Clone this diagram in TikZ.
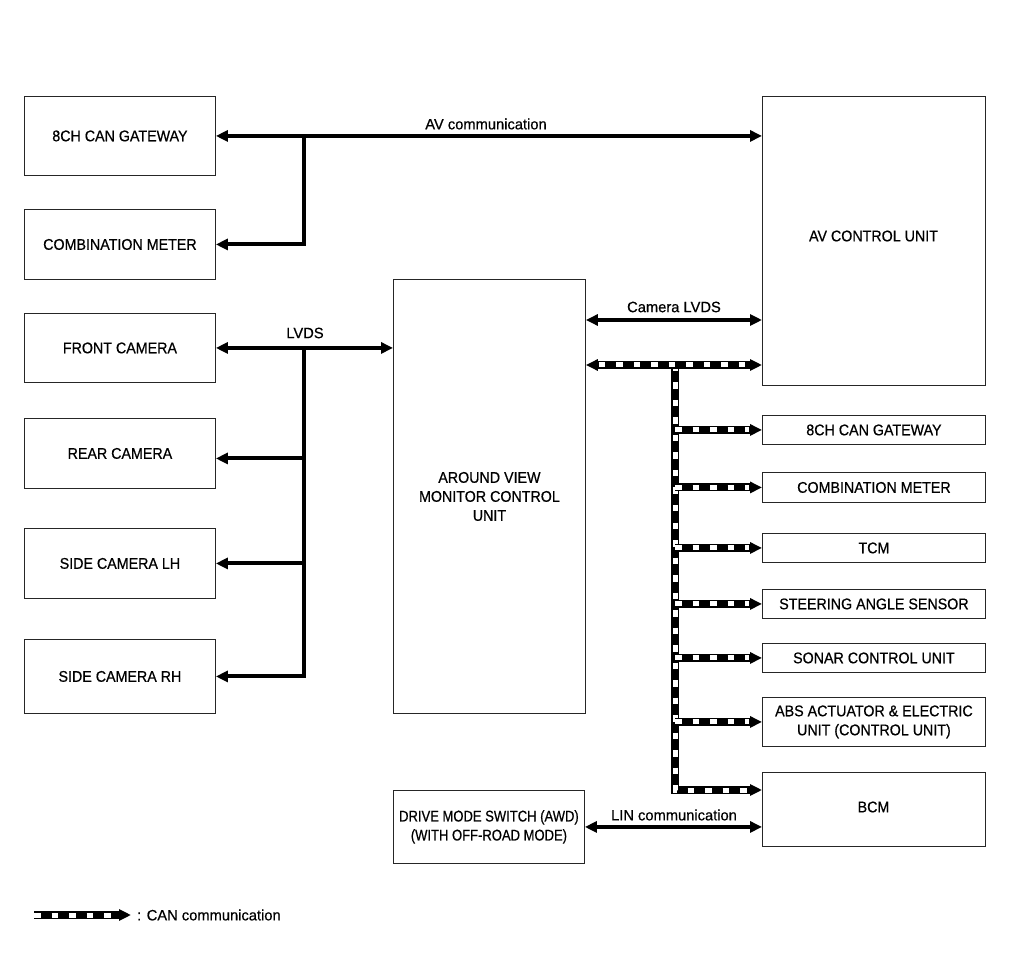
\documentclass[tikz,border=0pt]{standalone}
\usepackage{fontspec}
\setmainfont{Liberation Sans}
\newfontfamily\boxfont[FakeStretch=0.92,FakeBold=0.6]{Liberation Sans}
\newfontfamily\condfont[FakeStretch=0.84,FakeBold=0.6]{Liberation Sans}
\newfontfamily\lblfont[FakeStretch=0.98,FakeBold=0.6]{Liberation Sans}
\usetikzlibrary{arrows.meta,calc}
\tikzset{
  box/.style={draw=black!85,line width=0.9pt,anchor=north west,inner sep=0pt,align=center,font=\boxfont\fontsize{15.5}{19}\selectfont},
  txt/.style={inner sep=0pt,align=center,font=\boxfont\fontsize{15.5}{19}\selectfont},
  lbl/.style={inner sep=0pt,font=\lblfont\fontsize{15}{17}\selectfont},
  tip/.tip={Triangle[length=12pt,width=11pt]},
  sig/.style={line width=4pt,-tip},
  bisig/.style={line width=4pt,tip-tip},
  canblack/.style={line width=8pt,black},
  canwhite/.style={line width=5pt,white,dash pattern=on 6.5pt off 11pt},
}
\newcommand{\canline}[1]{\draw[canblack,-tip] #1; \draw[canwhite,shorten >=13pt] #1;}
\newcommand{\canbiline}[1]{\draw[canblack,tip-tip] #1; \draw[canwhite,shorten >=13pt,shorten <=13pt] #1;}
\begin{document}
\begin{tikzpicture}[x=1pt,y=-1pt]
\useasboundingbox (0,0) rectangle (1010,957);
% left boxes
\node[box,minimum width=191pt,minimum height=79pt] (gwL) at (24,96) {8CH CAN GATEWAY};
\node[box,minimum width=191pt,minimum height=70pt] (cmL) at (24,209) {COMBINATION METER};
\node[box,minimum width=191pt,minimum height=69pt] (front) at (24,313) {FRONT CAMERA};
\node[box,minimum width=191pt,minimum height=70pt] (rear) at (24,418) {REAR CAMERA};
\node[box,minimum width=191pt,minimum height=70pt] (lh) at (24,528) {SIDE CAMERA LH};
\node[box,minimum width=191pt,minimum height=74pt] (rh) at (24,639) {SIDE CAMERA RH};
% center
\node[box,minimum width=192pt,minimum height=434pt] (avm) at (393,279) {AROUND VIEW\\MONITOR CONTROL\\UNIT};
\node[box,minimum width=191pt,minimum height=73pt,font=\condfont\fontsize{15.5}{19}\selectfont] (drv) at (393,790) {DRIVE MODE SWITCH (AWD)\\(WITH OFF-ROAD MODE)};
% right
\node[box,minimum width=223pt,minimum height=289pt] (avcu) at (762,96) {};
\node[txt] (avcut) at (873.5,236) {AV CONTROL UNIT};
\node[box,minimum width=223pt,minimum height=29pt] (gwR) at (762,415) {8CH CAN GATEWAY};
\node[box,minimum width=223pt,minimum height=30pt] (cmR) at (762,472) {COMBINATION METER};
\node[box,minimum width=223pt,minimum height=29pt] (tcm) at (762,533) {TCM};
\node[box,minimum width=223pt,minimum height=29pt] (sas) at (762,589) {STEERING ANGLE SENSOR};
\node[box,minimum width=223pt,minimum height=29pt] (sonar) at (762,643) {SONAR CONTROL UNIT};
\node[box,minimum width=223pt,minimum height=49pt] (abs) at (762,697) {ABS ACTUATOR \& ELECTRIC\\UNIT (CONTROL UNIT)};
\node[box,minimum width=223pt,minimum height=74pt] (bcm) at (762,772) {};
\node[txt] (bcmt) at (873.5,807) {BCM};

% AV communication
\draw[bisig] (gwL.east) -- (avcu.west |- gwL.east);
\node[lbl] (avcom) at (486,124) {AV communication};
\coordinate (jav) at (304,136);
\draw[sig] (jav) |- (cmL.east);

% LVDS
\draw[bisig] (front.east) -- (avm.west |- front.east);
\node[lbl] (lvds) at (305,333) {LVDS};
\coordinate (jl) at (304,348);
\draw[sig] (jl) |- ([yshift=-5pt]rear.east);
\draw[sig] (jl) |- (lh.east);
\draw[line width=4pt] (jl) -- (304,677);
\draw[sig] (jl) |- (rh.east);

% Camera LVDS
\coordinate (ycl) at (0,320);
\draw[bisig] (avm.east |- ycl) -- (avcu.west |- ycl);
\node[lbl] (camlvds) at (674,307) {Camera LVDS};

% CAN
\coordinate (ycan) at (0,365);
\coordinate (jc) at (675,365);
\coordinate (ybcm) at (0,790);
\canline{(jc) |- (bcm.west |- ybcm)}
\canline{(jc |- gwR.west) -- (gwR.west)}
\canline{(jc |- cmR.west) -- (cmR.west)}
\canline{(jc |- tcm.west) -- (tcm.west)}
\canline{(jc |- sas.west) -- (sas.west)}
\canline{(jc |- sonar.west) -- (sonar.west)}
\canline{(jc |- abs.west) -- (abs.west)}
\canbiline{(avm.east |- ycan) -- (avcu.west |- ycan)}

% LIN
\draw[bisig] (drv.east) -- (bcm.west |- drv.east);
\node[lbl] (lin) at (674,815) {LIN communication};

% legend
\node[lbl,anchor=west] (lgt) at (137,915) {: CAN communication};
\coordinate (lga) at (34,915);
\canline{(lga) -- ([xshift=-6pt]lgt.west)}
\end{tikzpicture}
\end{document}
